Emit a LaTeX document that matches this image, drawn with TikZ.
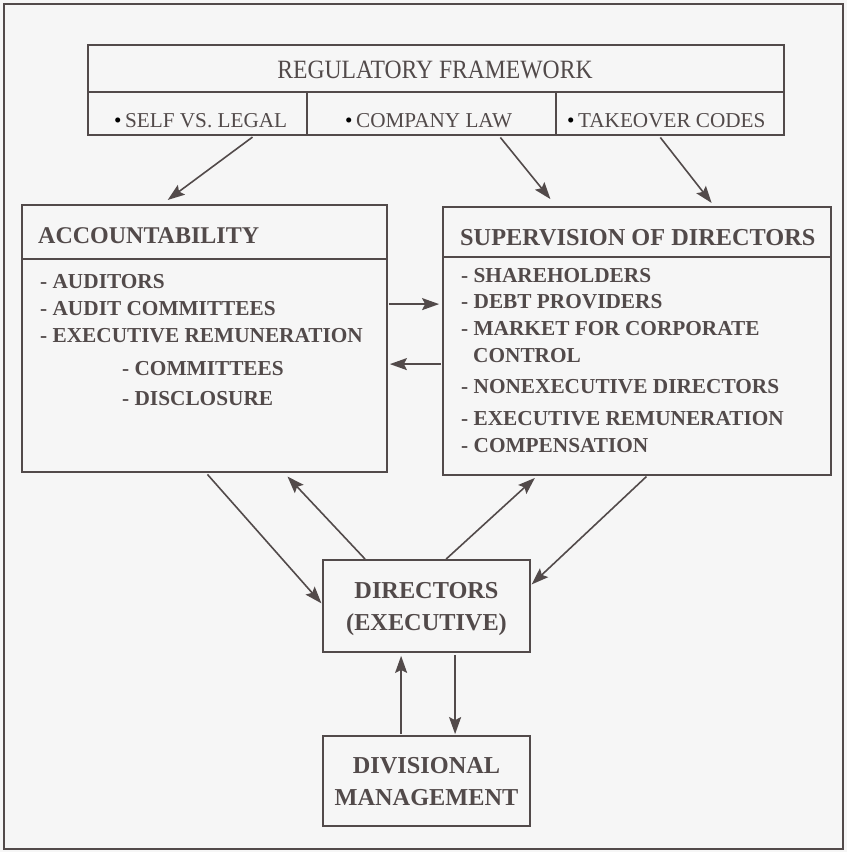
\documentclass[tikz,border=0pt]{standalone}
\usepackage{fontspec}
\setmainfont{Liberation Serif}
\newfontfamily\condfont[FakeStretch=0.895]{Liberation Serif}
\usetikzlibrary{arrows.meta}
\definecolor{ink}{RGB}{82,74,74}
\definecolor{paper}{RGB}{246,246,246}
\newcommand{\blt}{\textcolor{black}{\textbullet}}
\tikzset{
  box/.style={draw=ink, line width=1.8pt, inner sep=0pt},
  arr/.style={draw=ink, line width=1.6pt, -{Stealth[length=17pt,width=12pt,inset=3pt]}},
  rule/.style={draw=ink, line width=1.6pt},
  txt/.style={anchor=base west, inner sep=0pt, text=ink},
  ctxt/.style={anchor=base, inner sep=0pt, text=ink},
  hd/.style={font=\fontsize{24}{26}\selectfont\bfseries},
  it/.style={font=\fontsize{21.3}{24}\selectfont\bfseries},
  reg/.style={font=\fontsize{21.2}{24}\selectfont},
  bx/.style={font=\fontsize{24.3}{26}\selectfont\bfseries},
}
\begin{document}
\begin{tikzpicture}[x=1pt,y=-1pt]
\fill[paper] (0,0) rectangle (847,852);
\useasboundingbox (0,0) rectangle (847,852);
\node[box, minimum width=839pt, minimum height=845pt] (frame) at (423.5,426.5) {};
% regulatory
\node[box, minimum width=696pt, minimum height=90pt] (regbox) at (436,90) {};
\coordinate (rl) at (88,92);
\coordinate (rr) at (784,92);
\draw[rule] (rl) -- (rr);
\coordinate (d1t) at (307,92); \coordinate (d1b) at (307,135);
\coordinate (d2t) at (556,92); \coordinate (d2b) at (556,135);
\draw[rule] (d1t) -- (d1b);
\draw[rule] (d2t) -- (d2b);
\node[ctxt, font=\condfont\fontsize{26.4}{28}\selectfont] (regt) at (435,78) {REGULATORY FRAMEWORK};
\node[txt, reg] (b1) at (114,127) {\blt\,SELF VS. LEGAL};
\node[txt, reg] (b2) at (345,127) {\blt\,COMPANY LAW};
\node[txt, reg] (b3) at (567,127) {\blt\,TAKEOVER CODES};
% accountability
\node[box, minimum width=365pt, minimum height=267pt] (acc) at (204.5,338.5) {};
\coordinate (al) at (22,259); \coordinate (ar) at (387,259);
\draw[rule] (al) -- (ar);
\node[txt, hd] (acch) at (38,243) {ACCOUNTABILITY};
\node[txt, it] (a1) at (40,288) {- AUDITORS};
\node[txt, it] (a2) at (40,315) {- AUDIT COMMITTEES};
\node[txt, it] (a3) at (40,342) {- EXECUTIVE REMUNERATION};
\node[txt, it] (a4) at (122,375) {- COMMITTEES};
\node[txt, it] (a5) at (122,405) {- DISCLOSURE};
% supervision
\node[box, minimum width=388pt, minimum height=268pt] (sup) at (637,341) {};
\coordinate (sl) at (443,257); \coordinate (sr) at (831,257);
\draw[rule] (sl) -- (sr);
\node[txt, hd, font=\fontsize{24.3}{26}\selectfont\bfseries] (suph) at (460,245) {SUPERVISION OF DIRECTORS};
\node[txt, it] (s1) at (461,282) {- SHAREHOLDERS};
\node[txt, it] (s2) at (461,308) {- DEBT PROVIDERS};
\node[txt, it] (s3) at (461,335) {- MARKET FOR CORPORATE};
\node[txt, it] (s3b) at (473,362) {CONTROL};
\node[txt, it] (s4) at (461,393) {- NONEXECUTIVE DIRECTORS};
\node[txt, it] (s5) at (461,425) {- EXECUTIVE REMUNERATION};
\node[txt, it] (s6) at (461,452) {- COMPENSATION};
% directors
\node[box, minimum width=207pt, minimum height=92pt] (dir) at (426.5,606) {};
\node[ctxt, bx] (dt1) at (426.5,598) {DIRECTORS};
\node[ctxt, bx] (dt2) at (426.5,630) {(EXECUTIVE)};
% divisional
\node[box, minimum width=207pt, minimum height=90pt] (div) at (426.5,781) {};
\node[ctxt, bx] (vt1) at (426.5,773) {DIVISIONAL};
\node[ctxt, bx] (vt2) at (426.5,805) {MANAGEMENT};
% arrows
\draw[arr, shorten >=7pt, shorten <=2pt] ([xshift=167pt]regbox.south west) -- ([xshift=141pt]acc.north west);
\draw[arr, shorten >=9pt, shorten <=2pt] ([xshift=412pt]regbox.south west) -- ([xshift=114pt]sup.north west);
\draw[arr, shorten >=4pt, shorten <=2pt] ([xshift=572pt]regbox.south west) -- ([xshift=272pt]sup.north west);
\draw[arr, shorten >=3pt, shorten <=1pt] ([yshift=-100pt]acc.north east) -- ([yshift=-98pt]sup.north west);
\draw[arr, shorten >=2pt, shorten <=1pt] ([yshift=-158pt]sup.north west) -- ([yshift=-160pt]acc.north east);
\draw[arr, shorten >=1pt, shorten <=2pt] ([xshift=185pt]acc.south west) -- ([yshift=-45pt]dir.north west);
\draw[arr, shorten >=5pt, shorten <=0pt] ([xshift=43pt]dir.north west) -- ([xshift=263pt]acc.south west);
\draw[arr, shorten >=3pt, shorten <=0pt] ([xshift=124pt]dir.north west) -- ([xshift=95pt]sup.south west);
\draw[arr, shorten >=1pt, shorten <=1pt] ([xshift=205pt]sup.south west) -- ([yshift=-26pt]dir.north east);
\draw[arr, shorten >=3pt, shorten <=1pt] ([xshift=79pt]div.north west) -- ([xshift=79pt]dir.south west);
\draw[arr, shorten >=1pt, shorten <=2pt] ([xshift=133pt]dir.south west) -- ([xshift=133pt]div.north west);
\end{tikzpicture}
\end{document}
